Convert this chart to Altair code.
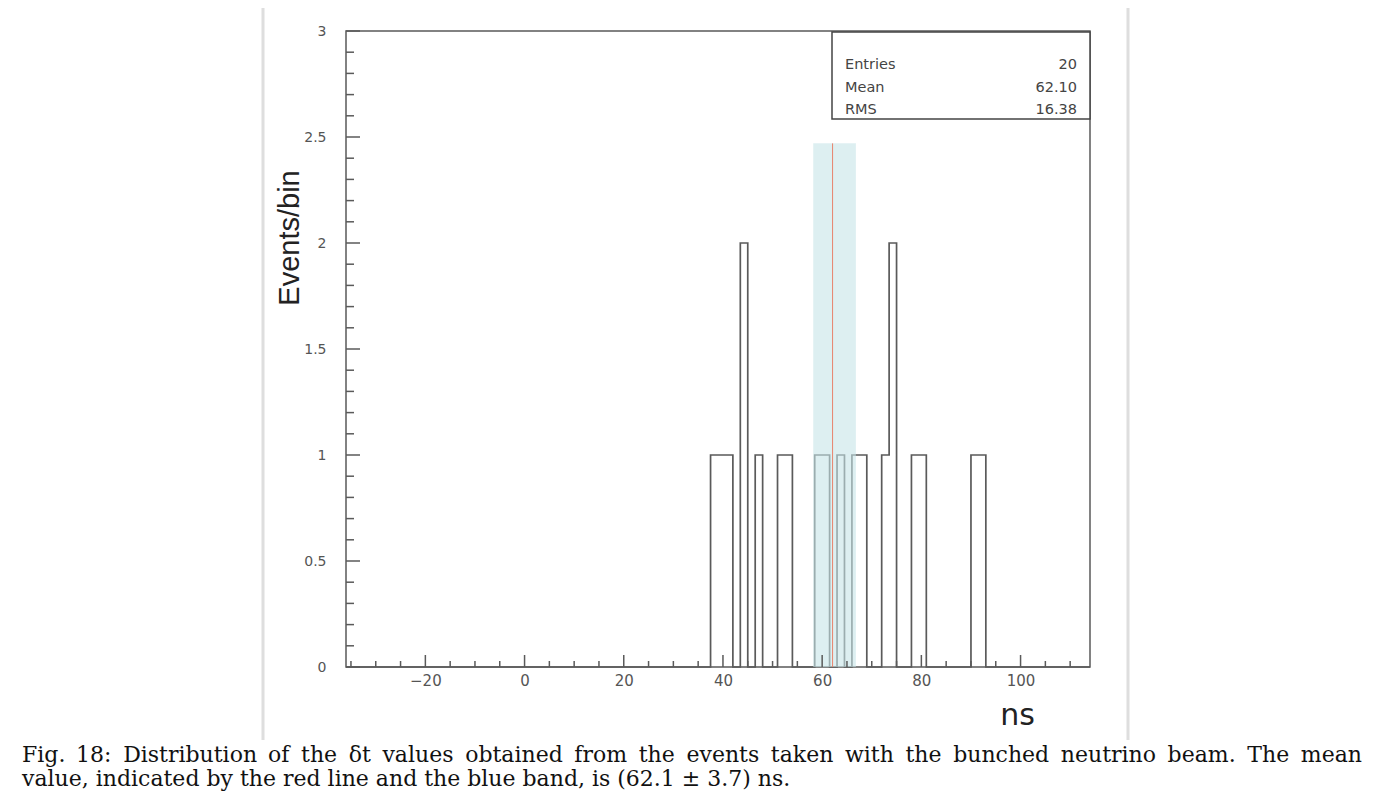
import altair as alt
import pandas as pd

# ---------------- data ----------------
# histogram: 100 bins of 1.5 ns between -36 and 114 ns (20 entries)
bin_lo = -36.0
bin_width = 1.5
n_bins = 100
filled_bin_starts = [37.5, 39.0, 40.5, 43.5, 46.5, 51.0, 52.5, 58.5, 60.0,
                     63.0, 66.0, 67.5, 72.0, 73.5, 78.0, 79.5, 90.0, 91.5]
filled_bin_counts = [1, 1, 1, 2, 1, 1, 1, 1, 1,
                     1, 1, 1, 1, 2, 1, 1, 1, 1]

mean_value = 62.10
band_lo = 58.2
band_hi = 66.8
band_top = 2.47

stats_labels = ["Entries", "Mean", "RMS"]
stats_values = ["20", "62.10", "16.38"]

x_major = [-20, 0, 20, 40, 60, 80, 100]
x_minor = [-35, -30, -25, -15, -10, -5, 5, 10, 15, 25, 30, 35, 45, 50, 55,
           65, 70, 75, 85, 90, 95, 105, 110]
y_major = [0, 0.5, 1, 1.5, 2, 2.5, 3]
y_minor = [0.1, 0.2, 0.3, 0.4, 0.6, 0.7, 0.8, 0.9, 1.1, 1.2, 1.3, 1.4,
           1.6, 1.7, 1.8, 1.9, 2.1, 2.2, 2.3, 2.4, 2.6, 2.7, 2.8, 2.9]

caption_line1 = ("Fig. 18: Distribution of the \u03b4t values obtained from the events "
                 "taken with the bunched neutrino beam. The mean")
caption_line2 = "value, indicated by the red line and the blue band, is (62.1 \u00b1 3.7) ns."

# ---------------- build tables ----------------
counts = [0] * n_bins
for s, c in zip(filled_bin_starts, filled_bin_counts):
    counts[int(round((s - bin_lo) / bin_width))] = c
edges = [bin_lo + k * bin_width for k in range(n_bins + 1)]
hist_df = pd.DataFrame({"x": edges, "y": counts + [counts[-1]]})

W, H = 744, 636
LINE = "#5a5a5a"
TXT = "#555555"

xs = alt.Scale(domain=[-36, 114], nice=False, zero=False)
ys = alt.Scale(domain=[0, 3], nice=False, zero=True)

xaxis = alt.Axis(values=x_major, format="d", grid=False, domain=False, ticks=False,
                 tickSize=0, labelPadding=6, labelFont="DejaVu Sans", labelFontSize=15,
                 labelColor=TXT, title=None)
yaxis = alt.Axis(values=y_major, format=".1~f", grid=False, domain=False, ticks=False,
                 tickSize=0, labelPadding=20, labelFont="DejaVu Sans", labelFontSize=14,
                 labelColor=TXT, title=None)


def X(field):
    return alt.X(field, type="quantitative", scale=xs, axis=xaxis)


def Y(field):
    return alt.Y(field, type="quantitative", scale=ys, axis=yaxis)


hist = alt.Chart(hist_df).mark_line(interpolate="step-after", color=LINE,
                                     strokeWidth=1.7).encode(x=X("x"), y=Y("y"))

band_df = pd.DataFrame({"lo": [band_lo], "hi": [band_hi], "b": [0], "t": [band_top]})
band = alt.Chart(band_df).mark_rect(color="#c6e4e8", opacity=0.6).encode(
    x=X("lo"), x2="hi", y=Y("b"), y2="t")

mean_df = pd.DataFrame({"m": [mean_value], "b": [0], "t": [band_top]})
mean_rule = alt.Chart(mean_df).mark_rule(color="#e8846c", strokeWidth=1).encode(
    x=X("m"), y=Y("b"), y2="t")

xmaj = alt.Chart(pd.DataFrame({"v": x_major})).mark_rule(color=LINE, strokeWidth=1.5).encode(
    x=X("v"), y=alt.value(H), y2=alt.value(H - 12))
xmin = alt.Chart(pd.DataFrame({"v": x_minor})).mark_rule(color=LINE, strokeWidth=1.5).encode(
    x=X("v"), y=alt.value(H), y2=alt.value(H - 6))
ymaj = alt.Chart(pd.DataFrame({"v": y_major})).mark_rule(color=LINE, strokeWidth=1.5).encode(
    y=Y("v"), x=alt.value(0), x2=alt.value(14))
ymin = alt.Chart(pd.DataFrame({"v": y_minor})).mark_rule(color=LINE, strokeWidth=1.5).encode(
    y=Y("v"), x=alt.value(0), x2=alt.value(8))

# stats box (ROOT style) in the top-right corner of the frame
one = pd.DataFrame({"d": [0]})
stats_box = alt.Chart(one).mark_rect(fill="white", stroke="#444444", strokeWidth=1.5).encode(
    x=alt.value(486), x2=alt.value(W), y=alt.value(1), y2=alt.value(88))
stats_layers = []
for i, (lab, val) in enumerate(zip(stats_labels, stats_values)):
    yy = 38 + i * 22.5
    stats_layers.append(alt.Chart(one).mark_text(
        text=lab, align="left", baseline="alphabetic", font="DejaVu Sans",
        fontSize=14.5, color="#444444").encode(x=alt.value(499), y=alt.value(yy)))
    stats_layers.append(alt.Chart(one).mark_text(
        text=val, align="right", baseline="alphabetic", font="DejaVu Sans",
        fontSize=14.5, color="#444444").encode(x=alt.value(731), y=alt.value(yy)))

# axis titles
ytitle = alt.Chart(one).mark_text(text="Events/bin", angle=270, align="center",
                                  baseline="middle", font="Liberation Sans", fontSize=29,
                                  color="#222222").encode(x=alt.value(-56), y=alt.value(207))
xtitle = alt.Chart(one).mark_text(text="ns", align="right", baseline="alphabetic",
                                  font="DejaVu Sans", fontSize=30,
                                  color="#222222").encode(x=alt.value(689), y=alt.value(694))

# figure border lines of the embedded picture
border_l = alt.Chart(one).mark_rule(color="#dedede", strokeWidth=3).encode(
    x=alt.value(-83), y=alt.value(-23), y2=alt.value(709))
border_r = alt.Chart(one).mark_rule(color="#dedede", strokeWidth=3).encode(
    x=alt.value(782), y=alt.value(-23), y2=alt.value(709))

# caption: line 1 is justified across the page, line 2 is left aligned
CAP_FS = 22
cap_style = dict(baseline="alphabetic", font="DejaVu Serif", fontSize=CAP_FS, color="#111111")
cap_left, cap_width = -324, 1340
# approximate DejaVu Serif advance widths (em) used only to justify line 1
adv = {"a": .596, "b": .640, "c": .560, "d": .640, "e": .592, "f": .370, "g": .640,
       "h": .644, "i": .320, "j": .310, "k": .605, "l": .320, "m": .948, "n": .644,
       "o": .602, "p": .640, "q": .640, "r": .478, "s": .513, "t": .402, "u": .644,
       "v": .565, "w": .856, "x": .564, "y": .565, "z": .523, "F": .653, "T": .669,
       "D": .771, ".": .318, ":": .337, ",": .318, "\u03b4": .602}


def word_w(w):
    return sum(adv.get(ch, .636) for ch in w) * CAP_FS


words = caption_line1.split(" ")
widths = [word_w(w) for w in words]
gap = (cap_width - sum(widths)) / (len(words) - 1)
cap_layers = []
xpos = cap_left
for w, ww in zip(words, widths):
    cap_layers.append(alt.Chart(one).mark_text(text=w, align="left", **cap_style).encode(
        x=alt.value(xpos), y=alt.value(731)))
    xpos += ww + gap
cap_layers.append(alt.Chart(one).mark_text(text=caption_line2, align="left", **cap_style).encode(
    x=alt.value(cap_left), y=alt.value(755)))

chart = alt.layer(
    border_l, border_r, hist, band, mean_rule, xmaj, xmin, ymaj, ymin,
    stats_box, *stats_layers, ytitle, xtitle, *cap_layers
).properties(
    width=W, height=H,
    padding={"left": 338, "top": 23, "right": 290, "bottom": 132},
    autosize=alt.AutoSizeParams(type="none"),
    background="white",
).configure_view(stroke=LINE, strokeWidth=1.5)

chart.save("out.html", embed_options={"renderer": "svg", "actions": False})
